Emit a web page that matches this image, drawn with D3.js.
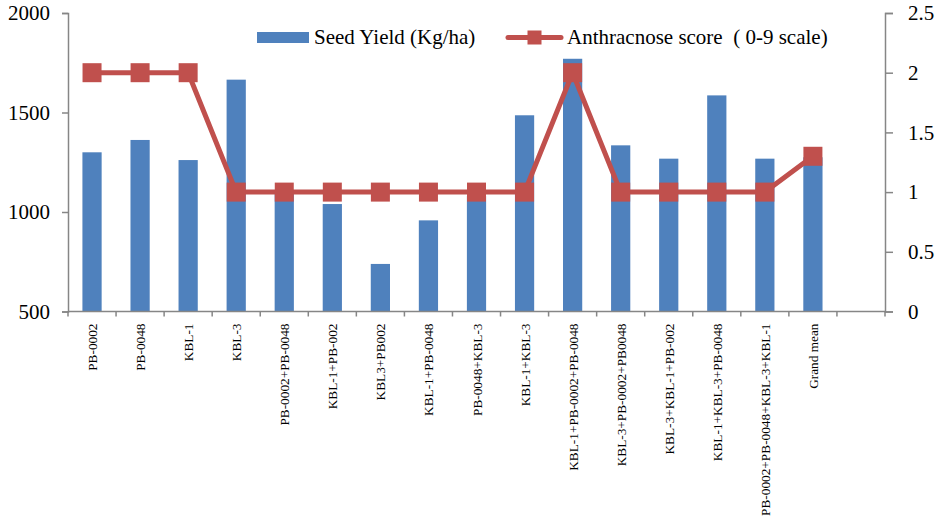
<!DOCTYPE html>
<html><head><meta charset="utf-8">
<script src="https://cdn.jsdelivr.net/npm/d3@7"></script>
<style>body{margin:0;background:#fff}svg{display:block}svg text{font-family:"Liberation Serif",serif}</style>
</head><body><svg id="c" width="941" height="518"></svg>
<script>
const categories = ["PB-0002","PB-0048","KBL-1","KBL-3","PB-0002+PB-0048","KBL-1+PB-002","KBL3+PB002","KBL-1+PB-0048","PB-0048+KBL-3","KBL-1+KBL-3","KBL-1+PB-0002+PB-0048","KBL-3+PB-0002+PB0048","KBL-3+KBL-1+PB-002","KBL-1+KBL-3+PB-0048","PB-0002+PB-0048+KBL-3+KBL-1","Grand mean"];
const seedYield = [1300,1362,1261,1665,1090,1040,739,958,1080,1486,1770,1335,1268,1586,1268,1275];
const anthracnose = [2,2,2,1,1,1,1,1,1,1,2,1,1,1,1,1.3];
const leftTicks = [500,1000,1500,2000];
const rightTicks = [0,0.5,1,1.5,2,2.5];
const seriesNames = ["Seed Yield (Kg/ha)","Anthracnose score\u00a0\u00a0( 0-9 scale)"];

const svg = d3.select("#c");
const L = 68, R = 885, T = 13, B = 311.5;
const font = "Liberation Serif, serif";
const blue = "#4F81BD", red = "#C0504D", axisCol = "#868686";

const x = d3.scaleBand().domain(categories.concat(["__blank"])).range([L, R]).padding(0);
const yL = d3.scaleLinear().domain([500, 2000]).range([B, T]);
const yR = d3.scaleLinear().domain([0, 2.5]).range([B, T]);
const bw = x.bandwidth() * 0.4;

// bars
svg.append("g").selectAll("rect").data(categories).join("rect")
  .attr("x", d => x(d) + x.bandwidth()/2 - bw/2)
  .attr("y", (d,i) => yL(seedYield[i]))
  .attr("width", bw)
  .attr("height", (d,i) => B - yL(seedYield[i]))
  .attr("fill", blue);

// axes
const gl = svg.append("g").attr("transform", `translate(${L},0)`)
  .call(d3.axisLeft(yL).tickValues(leftTicks).tickSize(6).tickPadding(12).tickFormat(d3.format("d")));
const gr = svg.append("g").attr("transform", `translate(${R},0)`)
  .call(d3.axisRight(yR).tickValues(rightTicks).tickSize(8).tickPadding(15).tickFormat(d => String(d)));
[gl, gr].forEach(g => {
  g.attr("font-family", null).attr("font-size", null);
  g.select(".domain").attr("stroke", axisCol).attr("stroke-width", 1.5);
  g.selectAll(".tick line").attr("stroke", axisCol).attr("stroke-width", 1.5);
  g.selectAll("text").style("font-family", font).style("font-size", "21px").attr("fill", "#000");
});

// x axis
const gx = svg.append("g");
gx.append("line").attr("x1", L).attr("x2", R).attr("y1", B).attr("y2", B)
  .attr("stroke", axisCol).attr("stroke-width", 1.5);
const bounds = x.domain().map(d => x(d)).concat([R]);
gx.selectAll("line.t").data(bounds).join("line").attr("class","t")
  .attr("x1", d => d).attr("x2", d => d).attr("y1", B).attr("y2", B + 5)
  .attr("stroke", axisCol).attr("stroke-width", 1.5);
gx.selectAll("text").data(categories).join("text")
  .attr("transform", d => `translate(${x(d) + x.bandwidth()/2 + 5},${B + 12}) rotate(-90)`)
  .attr("text-anchor", "end")
  .style("font-family", font).style("font-size", "13.3px").attr("fill", "#000")
  .text(d => d);

// line
const line = d3.line().x((d,i) => x(categories[i]) + x.bandwidth()/2).y(d => yR(d));
svg.append("path").datum(anthracnose).attr("d", line)
  .attr("fill", "none").attr("stroke", red).attr("stroke-width", 5).attr("stroke-linejoin", "round");
const ms = 19;
svg.append("g").selectAll("rect").data(anthracnose).join("rect")
  .attr("x", (d,i) => x(categories[i]) + x.bandwidth()/2 - ms/2)
  .attr("y", d => yR(d) - ms/2)
  .attr("width", ms).attr("height", ms).attr("fill", red);

// legend
const lg = svg.append("g");
lg.append("rect").attr("x", 257).attr("y", 32).attr("width", 52).attr("height", 11).attr("fill", blue);
lg.append("text").attr("x", 314).attr("y", 44).style("font-family", font).style("font-size", "21px").text(seriesNames[0]);
lg.append("line").attr("x1", 508).attr("x2", 561).attr("y1", 37.5).attr("y2", 37.5)
  .attr("stroke", red).attr("stroke-width", 5).attr("stroke-linecap", "round");
lg.append("rect").attr("x", 534.5 - 7).attr("y", 37.5 - 7).attr("width", 14).attr("height", 14).attr("fill", red);
lg.append("text").attr("x", 567).attr("y", 44).style("font-family", font).style("font-size", "21px")
  .text(seriesNames[1]);
</script></body></html>
